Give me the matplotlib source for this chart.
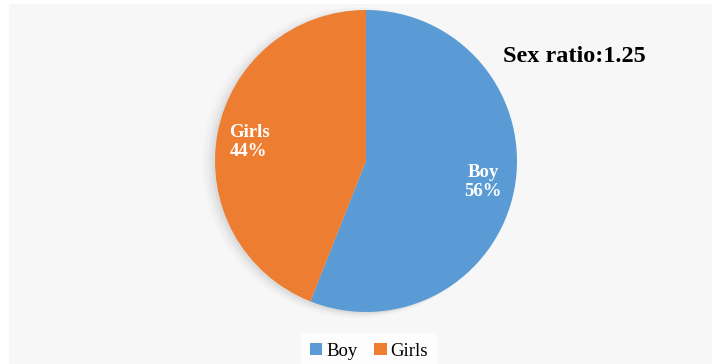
import matplotlib.pyplot as plt
from matplotlib.patches import Rectangle

# data
categories = ['Boy', 'Girls']
shares = [56, 44]
colors = ['#5B9BD5', '#ED7D31']
ratio_text = 'Sex ratio:1.25'

plt.rcParams['font.family'] = ['Liberation Serif', 'DejaVu Serif']

fig = plt.figure(figsize=(7.18, 3.64), dpi=100, facecolor='white')

# light gray chart area
fig.patches.append(Rectangle((9 / 718, 0), 703 / 718, 360 / 364,
                             transform=fig.transFigure, facecolor='#f7f7f7',
                             edgecolor='none', zorder=-5))

# pie axes: center ~ (366, 161), radius ~151 px
r = 151
ax = fig.add_axes([(366 - r) / 718, (364 - 161 - r) / 364, 2 * r / 718, 2 * r / 364])
ax.set_facecolor('none')
ax.set_zorder(1)

# soft shadow on the left
for k, a in enumerate([0.04, 0.03, 0.02, 0.015]):
    sh = plt.Circle((-0.02 - 0.012 * k, -0.01), 1.0 + 0.01 * k, color='black',
                    alpha=a, zorder=0, linewidth=0, clip_on=False)
    ax.add_patch(sh)

wedges, _ = ax.pie(shares, colors=colors, startangle=90, counterclock=False,
                   radius=1.0, wedgeprops=dict(linewidth=0, zorder=2))
ax.set_xlim(-1, 1)
ax.set_ylim(-1, 1)
ax.set_aspect('equal')
ax.axis('off')

# labels inside slices
label_pos = [(483, 182), (249, 142)]
for name, val, (px, py) in zip(categories, shares, label_pos):
    t = fig.text(px / 718, 1 - py / 364, f'{name}\n{val}%', color='white',
                 fontsize=13.5, fontweight='bold', ha='center', va='center',
                 linespacing=1.15)
    t.set_zorder(5)

fig.text(574 / 718, 1 - 57 / 364, ratio_text, fontsize=17.5, fontweight='bold',
         ha='center', va='center', color='black')

leg = fig.legend(wedges, categories, loc='center', bbox_to_anchor=(369 / 718, 1 - 351 / 364),
                 ncol=2, frameon=True, fontsize=13.5, handlelength=0.65, handleheight=0.65,
                 handletextpad=0.2, columnspacing=0.9, borderpad=0.3)
leg.get_frame().set_facecolor('white')
leg.get_frame().set_edgecolor('none')
leg.get_frame().set_boxstyle('square', pad=0.2)

fig.savefig('out.png', dpi=100, facecolor='white')
